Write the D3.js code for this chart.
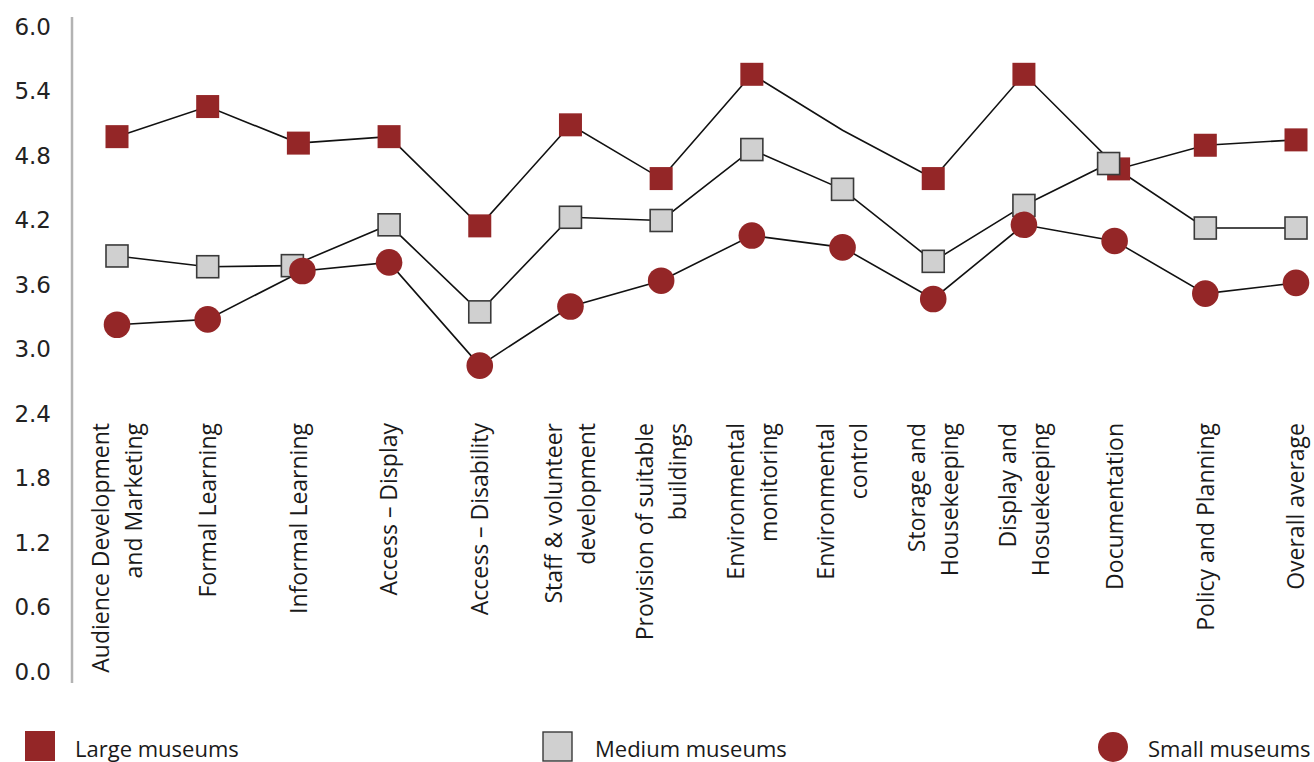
<!DOCTYPE html>
<html>
<head>
<meta charset="utf-8">
<script src="https://cdn.jsdelivr.net/npm/d3@7/dist/d3.min.js"></script>
<style>
  html, body { margin: 0; padding: 0; background: #ffffff; }
  svg { display: block; }
</style>
</head>
<body>
<svg id="chart" width="1314" height="762"></svg>
<script>
// Assessment areas, each label split into its display lines
const categories = [
  "Audience Development and Marketing",
  "Formal Learning",
  "Informal Learning",
  "Access – Display",
  "Access – Disability",
  "Staff & volunteer development",
  "Provision of suitable buildings",
  "Environmental monitoring",
  "Environmental control",
  "Storage and Housekeeping",
  "Display and Hosuekeeping",
  "Documentation",
  "Policy and Planning",
  "Overall average"
];
const categoryLines = [
  ["Audience Development", "and Marketing"],
  ["Formal Learning"],
  ["Informal Learning"],
  ["Access – Display"],
  ["Access – Disability"],
  ["Staff & volunteer", "development"],
  ["Provision of suitable", "buildings"],
  ["Environmental", "monitoring"],
  ["Environmental", "control"],
  ["Storage and", "Housekeeping"],
  ["Display and", "Hosuekeeping"],
  ["Documentation"],
  ["Policy and Planning"],
  ["Overall average"]
];

// Mean scores per museum size
const largeValues  = [4.98, 5.26, 4.92, 4.98, 4.15, 5.09, 4.59, 5.56, 5.04, 4.59, 5.56, 4.68, 4.90, 4.95];
const mediumValues = [3.87, 3.77, 3.78, 4.16, 3.35, 4.23, 4.20, 4.86, 4.49, 3.82, 4.34, 4.73, 4.13, 4.13];
const smallValues  = [3.23, 3.28, 3.73, 3.81, 2.85, 3.40, 3.64, 4.06, 3.95, 3.47, 4.16, 4.01, 3.52, 3.62];

// Points of the large-museum line that carry no marker
const largeUnmarked = ["Environmental control"];

const yTicks = [0.0, 0.6, 1.2, 1.8, 2.4, 3.0, 3.6, 4.2, 4.8, 5.4, 6.0];
const seriesNames = ["Large museums", "Medium museums", "Small museums"];

const RED = "#942627";
const GREY = "#d0d0d0";

const svg = d3.select("#chart");

const x = d3.scalePoint().domain(categories).range([117, 1296]);
const y = d3.scaleLinear().domain([0, 6]).range([672, 27]);

// Y axis: grey rule plus value labels
svg.append("line")
  .attr("x1", 72).attr("x2", 72)
  .attr("y1", 17).attr("y2", 683)
  .attr("stroke", "#b3b3b3")
  .attr("stroke-width", 2.5);

const yAxis = svg.append("g")
  .attr("transform", "translate(72,0)")
  .call(d3.axisLeft(y).tickValues(yTicks).tickFormat(d3.format(".1f")).tickSize(0).tickPadding(21));
yAxis.select(".domain").remove();
yAxis.selectAll("text")
  .attr("font-family", "DejaVu Sans, sans-serif")
  .attr("font-size", 23)
  .attr("fill", "#222");

// Category labels, rotated and ending just below the plot
const labelFont = 23, lineGap = 33;
const labels = svg.append("g");
categories.forEach((c, i) => {
  const lines = categoryLines[i];
  const g = labels.append("g")
    .attr("transform", `translate(${x(c)},423) rotate(-90)`);
  lines.forEach((ln, j) => {
    g.append("text")
      .attr("x", 0)
      .attr("y", (j - (lines.length - 1) / 2) * lineGap + labelFont * 0.36)
      .attr("text-anchor", "end")
      .attr("font-family", "Open Sans, sans-serif")
      .attr("font-size", labelFont)
      .attr("fill", "#1a1a1a")
      .text(ln);
  });
});

// Build per-series point lists; when the medium marker nearly coincides
// with another series, the two are nudged apart horizontally.
const series = {
  large: largeValues.map((v, i) => ({ c: categories[i], v, dx: 0 })),
  medium: mediumValues.map((v, i) => ({ c: categories[i], v, dx: 0 })),
  small: smallValues.map((v, i) => ({ c: categories[i], v, dx: 0 }))
};
categories.forEach((c, i) => {
  ["large", "small"].forEach(k => {
    if (Math.abs(series[k][i].v - series.medium[i].v) < 0.1) {
      series.medium[i].dx = -6;
      series[k][i].dx = 4;
    }
  });
});

const px = d => x(d.c) + d.dx;
const line = d3.line().x(px).y(d => y(d.v));

["large", "medium", "small"].forEach(k => {
  svg.append("path")
    .datum(series[k])
    .attr("d", line)
    .attr("fill", "none")
    .attr("stroke", "#111")
    .attr("stroke-width", 1.6);
});

// Markers
const sqL = 23, sqM = 22, rS = 13.3;
svg.append("g").selectAll("rect")
  .data(series.large.filter(d => !largeUnmarked.includes(d.c)))
  .join("rect")
  .attr("x", d => px(d) - sqL / 2)
  .attr("y", d => y(d.v) - sqL / 2)
  .attr("width", sqL).attr("height", sqL)
  .attr("fill", RED);

svg.append("g").selectAll("rect")
  .data(series.medium)
  .join("rect")
  .attr("x", d => px(d) - sqM / 2)
  .attr("y", d => y(d.v) - sqM / 2)
  .attr("width", sqM).attr("height", sqM)
  .attr("fill", GREY)
  .attr("stroke", "#3a3a3a")
  .attr("stroke-width", 1.6);

svg.append("g").selectAll("circle")
  .data(series.small)
  .join("circle")
  .attr("cx", px)
  .attr("cy", d => y(d.v))
  .attr("r", rS)
  .attr("fill", RED);

// Legend along the bottom edge
const legend = svg.append("g");
const legendItems = [
  { name: seriesNames[0], kx: 25, tx: 75, kind: "large" },
  { name: seriesNames[1], kx: 543, tx: 595, kind: "medium" },
  { name: seriesNames[2], kx: 1098, tx: 1148, kind: "small" }
];
legendItems.forEach(it => {
  if (it.kind === "large") {
    legend.append("rect").attr("x", it.kx).attr("y", 731).attr("width", 30).attr("height", 30).attr("fill", RED);
  } else if (it.kind === "medium") {
    legend.append("rect").attr("x", it.kx).attr("y", 732).attr("width", 29).attr("height", 29)
      .attr("fill", GREY).attr("stroke", "#3a3a3a").attr("stroke-width", 1.4);
  } else {
    legend.append("circle").attr("cx", it.kx + 15).attr("cy", 747).attr("r", 15).attr("fill", RED);
  }
  legend.append("text")
    .attr("x", it.tx).attr("y", 757)
    .attr("font-family", "Open Sans, sans-serif")
    .attr("font-size", 22)
    .attr("fill", "#1a1a1a")
    .text(it.name);
});
</script>
</body>
</html>
